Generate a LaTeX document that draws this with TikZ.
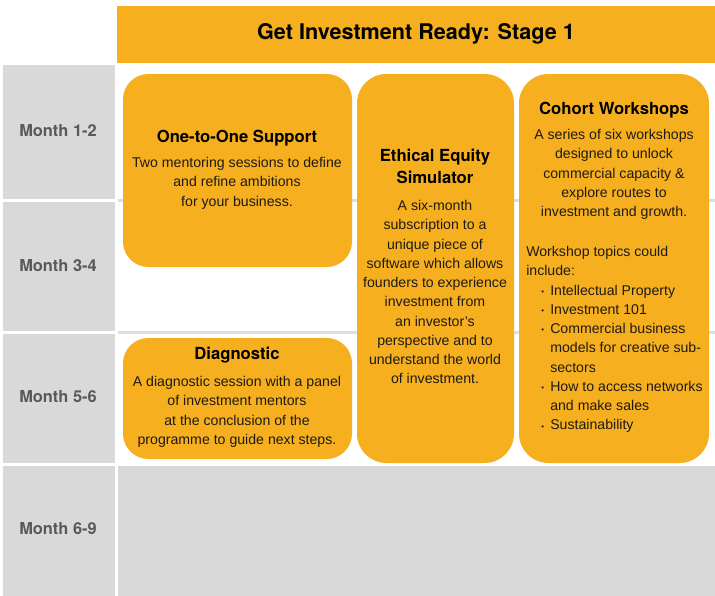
\documentclass[tikz,border=0pt]{standalone}
\usepackage{fontspec}
\setmainfont{Liberation Sans}
\newfontfamily\headfont{TeX Gyre Heros}
\usetikzlibrary{fit}
\definecolor{orng}{HTML}{F6B01F}
\definecolor{cellgray}{HTML}{D9D9D9}
\definecolor{monthgray}{HTML}{595959}
\definecolor{linegray}{HTML}{DEDEDE}
\definecolor{bodyink}{HTML}{1E1A14}
\tikzset{
  cell/.style={fill=cellgray, draw=none, inner sep=0pt},
  pill/.style={fill=orng, draw=none, inner sep=0pt},
  monthlbl/.style={text=monthgray, font=\headfont\bfseries\fontsize{12.3}{14}\selectfont, inner sep=0pt},
  headtxt/.style={text=black, font=\headfont\bfseries\fontsize{12.5}{16.5}\selectfont, inner sep=0pt, align=center},
  bodytxt/.style={text=bodyink, font=\fontsize{10.6}{14.45}\selectfont, inner sep=0pt, align=center},
  bodyleft/.style={text=bodyink, font=\fontsize{10.6}{14.45}\selectfont, inner sep=0pt, align=left},
}
\newcommand{\bul}{\makebox[6.75pt][l]{\raisebox{0.5pt}{\scalebox{0.55}{\textbullet}}}}
\begin{document}
\begin{tikzpicture}[x=0.75pt,y=-0.75pt]
\useasboundingbox[fill=white] (0,0) rectangle (715,596);
% title bar
\node[pill, fit={(117,6) (715,63)}] (titlebar) {};
\node[font=\headfont\bfseries\fontsize{16.2}{19}\selectfont, inner sep=0pt] (title) at (416,34) {Get Investment Ready: Stage 1};
% month cells
\node[cell, fit={(3,65) (115,199)}] (m1) {};
\node[cell, fit={(3,202) (115,331)}] (m2) {};
\node[cell, fit={(3,334) (115,463)}] (m3) {};
\node[cell, fit={(3,466) (115,596)}] (m4) {};
\node[monthlbl] (m1t) at (58,131) {Month 1-2};
\node[monthlbl] (m2t) at (58,266) {Month 3-4};
\node[monthlbl] (m3t) at (58,397) {Month 5-6};
\node[monthlbl] (m4t) at (58,529) {Month 6-9};
% grid lines and bottom area
\node[fill=linegray, inner sep=0pt, fit={(118,199) (715,201.5)}] (hl1) {};
\node[fill=linegray, inner sep=0pt, fit={(118,331) (715,333.5)}] (hl2) {};
\node[cell, fit={(118,466) (715,596)}] (bottom) {};
% boxes
\node[pill, rounded corners=19pt, fit={(123,74) (352,267)}] (o2o) {};
\node[pill, rounded corners=19pt, fit={(123,338) (352,459)}] (diag) {};
\node[pill, rounded corners=22pt, fit={(357,74) (514,463)}] (ees) {};
\node[pill, rounded corners=22pt, fit={(519,74) (709,463)}] (cw) {};
% texts: one-to-one
\node[headtxt] (o2oh) at (237,138) {One-to-One Support};
\node[bodytxt, anchor=north] (o2ob) at (237,157) {Two mentoring sessions to define\\and refine ambitions\\for your business.};
% diagnostic
\node[headtxt] (diagh) at (237,355) {Diagnostic};
\node[bodytxt, anchor=north] (diagb) at (237,376) {A diagnostic session with a panel\\of investment mentors\\at the conclusion of the\\programme to guide next steps.};
% ethical equity simulator
\node[headtxt, anchor=north] (eesh) at (435,149) {Ethical Equity\\Simulator};
\node[bodytxt, anchor=north] (eesb) at (435,200) {A six-month\\subscription to a\\unique piece of\\software which allows\\founders to experience\\investment from\\an investor’s\\perspective and to\\understand the world\\of investment.};
% cohort workshops
\node[headtxt] (cwh) at (614,110) {Cohort Workshops};
\node[bodytxt, anchor=north] (cwb) at (614,129) {A series of six workshops\\designed to unlock\\commercial capacity \&\\explore routes to\\investment and growth.};
\node[bodyleft, anchor=north west] (cwl) at (526,246) {Workshop topics could\\include:\\
\hspace*{11.25pt}\bul Intellectual Property\\
\hspace*{11.25pt}\bul Investment 101\\
\hspace*{11.25pt}\bul Commercial business\\
\hspace*{18pt}models for creative sub-\\
\hspace*{18pt}sectors\\
\hspace*{11.25pt}\bul How to access networks\\
\hspace*{18pt}and make sales\\
\hspace*{11.25pt}\bul Sustainability};
\end{tikzpicture}
\end{document}
